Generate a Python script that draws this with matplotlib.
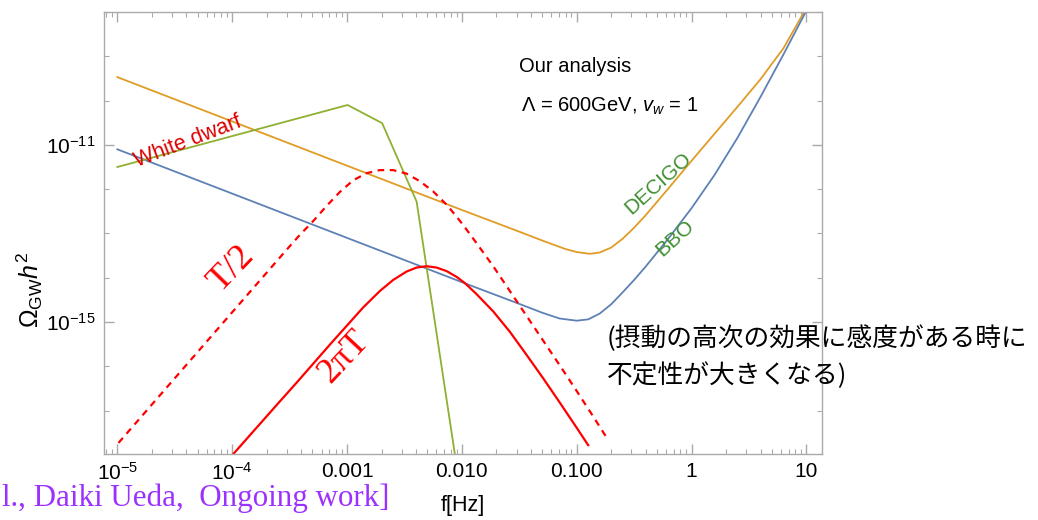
import matplotlib
matplotlib.use("Agg")
import matplotlib.pyplot as plt
import numpy as np
from matplotlib.ticker import FixedLocator, NullFormatter

plt.rcParams['font.family'] = ['Liberation Sans', 'DejaVu Sans']
plt.rcParams['mathtext.fontset'] = 'custom'
plt.rcParams['mathtext.rm'] = 'Liberation Sans'
plt.rcParams['mathtext.it'] = 'Liberation Sans:italic'
plt.rcParams['mathtext.bf'] = 'Liberation Sans:bold'

# all curves stored as log10(f [Hz]) and log10(Omega_GW h^2)
decigo_logf = [-5.0, -3.0, -2.0, -1.5, -1.3, -1.1, -1.0, -0.886, -0.8, -0.7,
               -0.6, -0.5, -0.4, -0.2, 0.0, 0.2, 0.4, 0.6, 0.8, 0.98]
decigo_logomega = [-9.47, -11.47, -12.47, -12.96, -13.16, -13.35, -13.42, -13.46, -13.43, -13.32,
                   -13.12, -12.87, -12.59, -11.98, -11.36, -10.75, -10.14, -9.52, -8.82, -8.0]

bbo_logf = [-5.0, -3.0, -2.0, -1.5, -1.3, -1.15, -1.0, -0.9, -0.8, -0.7,
            -0.6, -0.5, -0.4, -0.2, 0.0, 0.2, 0.4, 0.6, 0.8, 1.0]
bbo_logomega = [-11.10, -13.10, -14.10, -14.59, -14.79, -14.92, -14.97, -14.94, -14.81, -14.60,
                -14.33, -14.05, -13.75, -13.11, -12.43, -11.68, -10.84, -9.92, -8.96, -7.97]

wd_logf = [-5.0, -2.995, -2.694, -2.394, -2.061]
wd_logomega = [-11.50, -10.10, -10.51, -12.28, -17.98]

half_logf = [-4.99, -3.54, -3.41, -3.294, -3.178, -3.061, -2.946, -2.83, -2.714, -2.598,
             -2.481, -2.366, -2.25, -2.133, -2.046, -1.974, -1.872, -1.727, -1.582, -1.437,
             -1.292, -1.147, -1.002, -0.857, -0.727]
half_logomega = [-17.73, -13.41, -13.03, -12.72, -12.38, -12.06, -11.80, -11.64, -11.57, -11.57,
                 -11.65, -11.82, -12.05, -12.35, -12.62, -12.86, -13.22, -13.74, -14.30, -14.86,
                 -15.42, -15.98, -16.55, -17.13, -17.66]

twopi_logf = [-3.99, -3.584, -3.439, -3.294, -3.149, -3.004, -2.859, -2.714, -2.598, -2.481,
              -2.394, -2.307, -2.220, -2.133, -2.046, -1.974, -1.872, -1.727, -1.582, -1.437,
              -1.292, -1.147, -1.002, -0.90]
twopi_logomega = [-17.98, -16.79, -16.37, -15.94, -15.51, -15.09, -14.67, -14.30, -14.05, -13.86,
                  -13.77, -13.74, -13.77, -13.85, -13.98, -14.12, -14.37, -14.76, -15.22, -15.74,
                  -16.27, -16.82, -17.38, -17.78]

xtick_vals = [1e-5, 1e-4, 1e-3, 1e-2, 1e-1, 1, 10]
xtick_labels = [r'$10^{-5}$', r'$10^{-4}$', '0.001', '0.010', '0.100', '1', '10']
ytick_vals = [1e-15, 1e-11]
ytick_labels = [r'$10^{-15}$', r'$10^{-11}$']

W, H = 1038, 520
fig = plt.figure(figsize=(W / 100, H / 100), dpi=100)
ax = fig.add_axes([104 / W, 1 - 454 / H, (822 - 104) / W, (454 - 12) / H])

def p(v):
    return 10 ** np.array(v)

ax.plot(p(decigo_logf), p(decigo_logomega), color='#e09c24', lw=1.3)
ax.plot(p(bbo_logf), p(bbo_logomega), color='#5e81b5', lw=1.3)
ax.plot(p(wd_logf), p(wd_logomega), color='#8fb032', lw=1.3)
ax.plot(p(half_logf), p(half_logomega), color='#ff0000', lw=1.6, ls=(0, (3, 2.5)))
ax.plot(p(twopi_logf), p(twopi_logomega), color='#ff0000', lw=1.6)

ax.set_xscale('log')
ax.set_yscale('log')
ax.set_xlim(10 ** -5.116, 10 ** 1.136)
ax.set_ylim(10 ** -17.98, 10 ** -8.0)

ax.xaxis.set_major_locator(FixedLocator(xtick_vals))
ax.set_xticklabels(xtick_labels)
xminor = [m * 10.0 ** k for k in range(-6, 2) for m in range(2, 10)]
ax.xaxis.set_minor_locator(FixedLocator(xminor))
ax.xaxis.set_minor_formatter(NullFormatter())

ax.yaxis.set_major_locator(FixedLocator(ytick_vals))
ax.set_yticklabels(ytick_labels)
yminor = [10.0 ** k for k in range(-18, -7) if k not in (-15, -11)]
ax.yaxis.set_minor_locator(FixedLocator(yminor))
ax.yaxis.set_minor_formatter(NullFormatter())

for s in ax.spines.values():
    s.set_color('#aaaaaa')
    s.set_linewidth(1.0)
ax.tick_params(which='both', direction='in', top=True, right=True,
               color='#aaaaaa', labelcolor='black', labelsize=15)
ax.tick_params(which='major', length=7, width=1.0)
ax.tick_params(which='minor', length=3.5, width=0.8)
ax.tick_params(axis='x', which='major', pad=6)
ax.tick_params(axis='y', which='major', pad=6)

# curve labels
ax.text(10 ** -4.388, 10 ** -10.92, 'White dwarf', color='#dd0000', fontsize=15.5,
        rotation=21, ha='center', va='center')
ax.text(10 ** -4.0, 10 ** -13.80, 'T/2', color='#ff0000', fontsize=26,
        family='Liberation Serif', rotation=46, ha='center', va='center')
ax.text(10 ** -3.027, 10 ** -15.79, '2πT', color='#ff0000', fontsize=26,
        family='Liberation Serif', rotation=47, ha='center', va='center')
ax.text(10 ** -0.294, 10 ** -11.88, 'DECIGO', color='#3f8f2f', fontsize=15,
        rotation=42, ha='center', va='center')
ax.text(10 ** -0.146, 10 ** -13.10, 'BBO', color='#3f8f2f', fontsize=15,
        rotation=42, ha='center', va='center')
ax.text(10 ** -1.017, 10 ** -9.24, 'Our analysis', fontsize=14.5, ha='center', va='center')
ax.text(10 ** -0.716, 10 ** -10.14, r'$\Lambda$ = 600GeV, $v_w$ = 1', fontsize=14.5,
        ha='center', va='center')

fig.text(30 / W, 1 - 290 / H, r'$\Omega_{\rm GW}h^2$', fontsize=18, rotation=90,
         ha='center', va='center')
fig.text(463 / W, 1 - 506 / H, 'f[Hz]', fontsize=15.5, ha='center', va='center')

fig.text(389 / W, 1 - 506 / H, 'l., Daiki Ueda,  Ongoing work]', color='#9b30ff',
         fontsize=22.3, family='Liberation Serif', ha='right', va='baseline')

fig.text(607 / W, 1 - 339 / H, '(摂動の高次の効果に感度がある時に', fontsize=18.5,
         family=['Noto Sans CJK JP', 'DejaVu Sans'], ha='left', va='center')
fig.text(607 / W, 1 - 376 / H, '不定性が大きくなる)', fontsize=18.5,
         family=['Noto Sans CJK JP', 'DejaVu Sans'], ha='left', va='center')

fig.savefig('out.png', dpi=100)
